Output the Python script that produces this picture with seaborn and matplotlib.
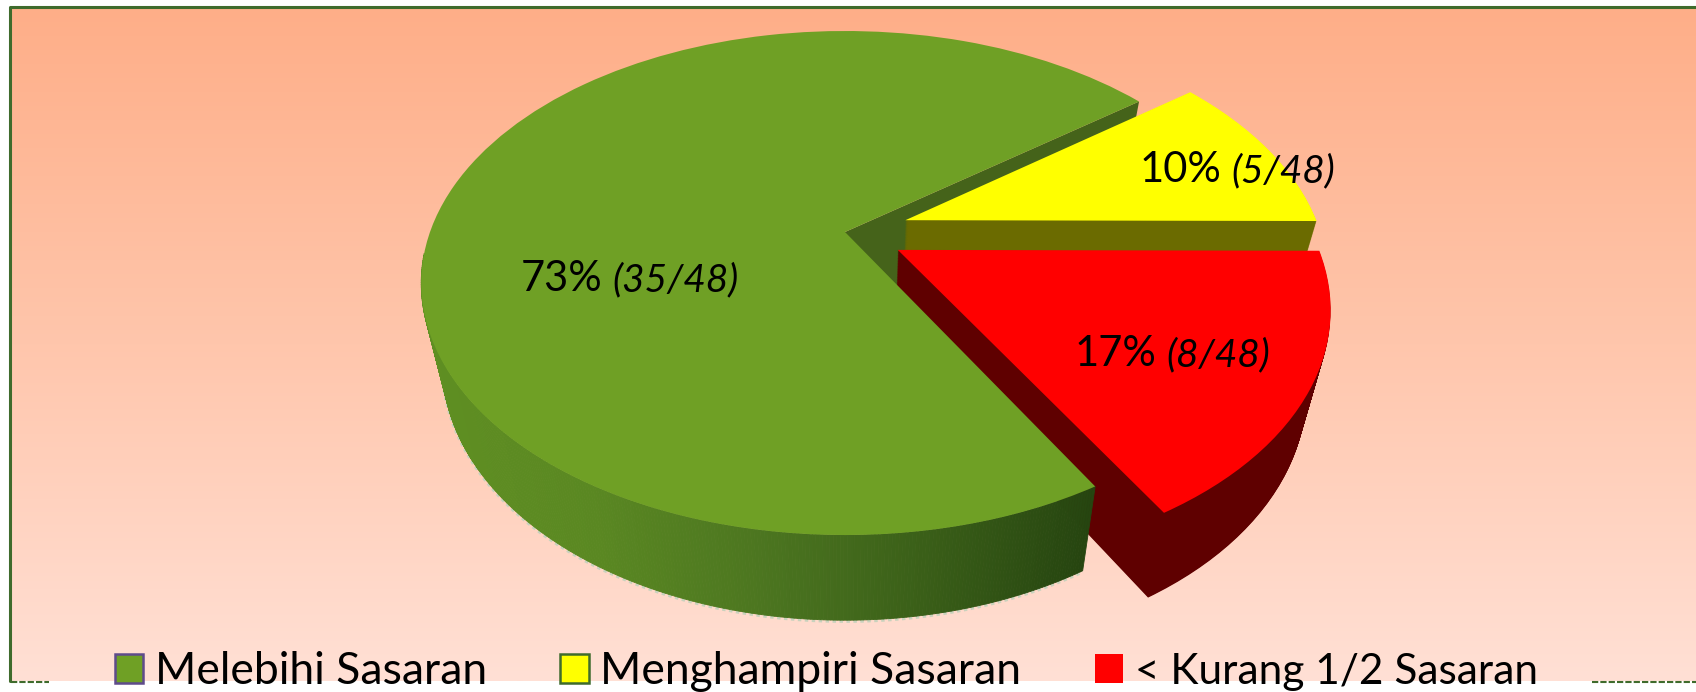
import numpy as np
import seaborn as sns
import matplotlib
matplotlib.use('Agg')
import matplotlib.pyplot as plt
from matplotlib.patches import Patch
from matplotlib.transforms import Transform

# slices, clockwise from the red/green edge
names = ['Melebihi Sasaran', 'Menghampiri Sasaran', '< Kurang 1/2 Sasaran']
counts = [35, 5, 8]
total = 48
percents = ['73%', '10%', '17%']
fractions = ['(35/48)', '(5/48)', '(8/48)']
top_colors = ['#6fa025', '#ffff00', '#ff0000']
side_colors = ['#45631a', '#6b6b00', '#5f0000']
explode = [0, 0.155, 0.145]

W, H = 1696, 692
START = -60.2
CX, CY, RX, RY, TILT = 845, 232, 415, 241.7, 0.2024
DEPTH, SHRINK = 80, 0.05

sns.set_theme(style='white')
plt.rcParams['font.family'] = ['Lato', 'DejaVu Sans']


class Tilted(Transform):
    # unit pie -> picture, z=0 top face, z=1 underside
    input_dims = output_dims = 2
    is_affine = False

    def __init__(self, z=0.0):
        super().__init__()
        self.z = z

    def transform_non_affine(self, values):
        values = np.asarray(values, dtype=float)
        u, v = values[:, 0], values[:, 1]
        w = 1 + TILT * v
        s = 1 - SHRINK * self.z
        return np.column_stack([CX + RX * s * u / w,
                                CY - RY * s * v / w + DEPTH * self.z / w])


def draw_pie(z, colors, zorders):
    wedges, _ = ax.pie(counts, colors=colors, startangle=START, counterclock=False,
                       explode=explode, radius=1, wedgeprops={'linewidth': 0})
    for wedge, color, zorder in zip(wedges, colors, zorders):
        if color == 'none':
            wedge.remove()
            continue
        wedge.set_transform(Tilted(z) + ax.transData)
        wedge.set_zorder(zorder)


fig = plt.figure(figsize=(W / 100, H / 100), dpi=100, facecolor='white')
ax = fig.add_axes([0, 0, 1, 1])

# backdrop
shade = sns.blend_palette(['#feae88', '#ffc6ac', '#ffe0d5'], 256, as_cmap=True)
ax.imshow(np.linspace(0, 1, 256).reshape(-1, 1), cmap=shade, aspect='auto',
          extent=[10, W, 681, 7], zorder=0)
ax.plot([10, 10, W], [681, 7, 7], color='#3f6b2c', lw=2.2, zorder=1)
ax.plot([11, 49], [682, 682], color='#3f6b2c', lw=1.5, ls=(0, (3, 1)), zorder=1)
ax.plot([1592, W], [682, 682], color='#3f6b2c', lw=1.5, ls=(0, (3, 1)), zorder=1)

# green rim, only the front part shows, darker towards the gap
green_start = START + 360 - counts[0] / total * 360
angles = np.radians(np.linspace(185, START + 360, 300))
rim = sns.blend_palette(['#5f8f22', '#5a8822', '#4c7620', '#3a5f18', '#264510'], 256)
top, bottom = Tilted(0.0), Tilted(1.0)
circle = np.column_stack([np.cos(angles), np.sin(angles)])
upper, lower = top.transform(circle), bottom.transform(circle)
for i in range(len(angles) - 1):
    # colour follows the position across the rim
    pos = np.clip((upper[i, 0] - 420) / 670, 0, 1)
    ax.fill([upper[i, 0], upper[i + 1, 0], lower[i + 1, 0], lower[i, 0]],
            [upper[i, 1], upper[i + 1, 1], lower[i + 1, 1], lower[i, 1]],
            color=rim[int(pos * 255)], lw=0.6, zorder=4)
ax.plot(lower[:, 0], lower[:, 1] + 1, color='#c9d2bd', lw=2.5, ls=(0, (1, 1)), zorder=1.05)

# cut face of the green slice seen through the gap
edge = np.array([[0, 0], [np.cos(np.radians(green_start)), np.sin(np.radians(green_start))]])
a, b = top.transform(edge), bottom.transform(edge)
ax.fill([a[0, 0], a[1, 0], b[1, 0], b[0, 0]], [a[0, 1], a[1, 1], b[1, 1], b[0, 1]],
        color=side_colors[0], lw=0, zorder=1.2)

# yellow and red thickness sit behind the green slice, then the three top faces
for z in np.linspace(1, 0.01, 110):
    draw_pie(z, ['none', side_colors[1], side_colors[2]], [0, 1.5, 1.8])
draw_pie(0.0, top_colors, [5, 7, 9])

# labels
ax.text(521, 291, percents[0], fontsize=30, color='black', zorder=10)
ax.text(612, 291, fractions[0], fontsize=28, style='italic', color='black', zorder=10)
ax.text(1140, 182, percents[1], fontsize=30, color='black', zorder=10)
ax.text(1231, 182, fractions[1], fontsize=28, style='italic', color='black', zorder=10)
ax.text(1075, 366, percents[2], fontsize=30, color='black', zorder=10)
ax.text(1166, 366, fractions[2], fontsize=28, style='italic', color='black', zorder=10)

handles = [Patch(facecolor=top_colors[0], edgecolor='#5f4b8b', lw=1.8, label=names[0]),
           Patch(facecolor=top_colors[1], edgecolor='#3f6b2c', lw=1.8, label=names[1]),
           Patch(facecolor=top_colors[2], edgecolor='none', label=names[2])]
leg = ax.legend(handles=handles, ncols=3, frameon=False, fontsize=32, loc='lower left',
                bbox_to_anchor=(115 / W, 0.0), borderaxespad=0, borderpad=0,
                handlelength=0.64, handleheight=0.64, handletextpad=0.26,
                columnspacing=1.65, labelcolor='black')
leg.get_texts()[2].set_fontsize(30.5)
leg.set_zorder(10)

ax.set_xlim(0, W)
ax.set_ylim(H, 0)
ax.set_aspect('auto')
ax.set_axis_off()
fig.savefig('out.png', dpi=100)
